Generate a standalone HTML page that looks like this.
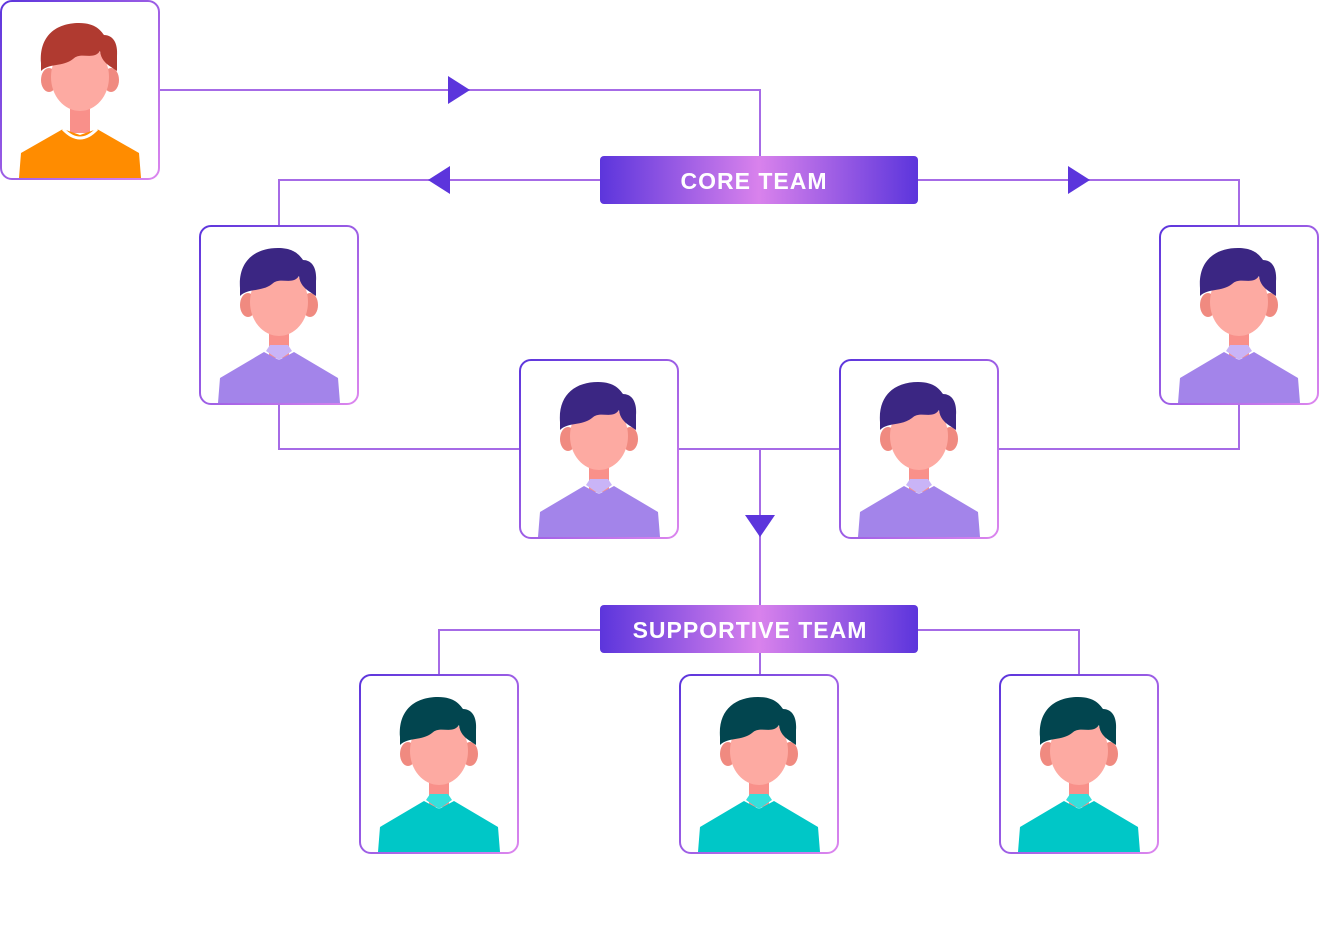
<!DOCTYPE html>
<html><head><meta charset="utf-8"><style>
html,body{margin:0;padding:0;background:#fff;}
svg{display:block}
</style></head><body>
<svg width="1320" height="934" viewBox="0 0 1320 934" xmlns="http://www.w3.org/2000/svg">
<defs>
<linearGradient id="bd" x1="0" y1="0" x2="1" y2="1"><stop offset="0" stop-color="#5c35dc"/><stop offset="1" stop-color="#dc86ee"/></linearGradient>
<linearGradient id="lbl" x1="0" y1="0" x2="1" y2="0"><stop offset="0" stop-color="#5c35dc"/><stop offset="0.5" stop-color="#d982ec"/><stop offset="1" stop-color="#5c35dc"/></linearGradient>
<g id="p">
<ellipse cx="48" cy="79" rx="8" ry="12" fill="#f08a80"/>
<ellipse cx="110" cy="79" rx="8" ry="12" fill="#f08a80"/>
<rect x="69" y="98" width="20" height="34" fill="#f9908a"/>
<ellipse cx="79" cy="76" rx="29" ry="34" fill="#fdaaa2"/>
</g>
<g id="hair">
<path d="M40,62 C38,35 55,22 78,22 C95,22 100,30 103,34 C112,34 117,42 116,55 L116,70 L110,66 C104,62 100,58 99,50 C92,60 80,50 72,58 C62,66 48,62 40,70 Z"/>
</g>
</defs>

<!-- connectors -->
<g fill="none" stroke="#a66be6" stroke-width="2">
<path d="M159,90 H760 V156"/>
<path d="M600,180 H279 V226"/>
<path d="M918,180 H1239 V226"/>
<path d="M279,404 V449 H520"/>
<path d="M678,449 H840"/>
<path d="M998,449 H1239 V404"/>
<path d="M760,449 V605"/>
<path d="M600,630 H439 V675"/>
<path d="M760,653 V675"/>
<path d="M918,630 H1079 V675"/>
</g>
<g fill="#5c35dc">
<polygon points="448,76 470,90 448,104"/>
<polygon points="450,166 428,180 450,194"/>
<polygon points="1068,166 1090,180 1068,194"/>
<polygon points="745,515 775,515 760,537"/>
</g>

<!-- labels -->
<rect x="600" y="156" width="318" height="48" rx="4" fill="url(#lbl)"/>
<text x="754" y="189" text-anchor="middle" font-family="Liberation Sans, sans-serif" font-weight="bold" font-size="23" fill="#fff" letter-spacing="1">CORE TEAM</text>
<rect x="600" y="605" width="318" height="48" rx="4" fill="url(#lbl)"/>
<text x="750" y="638" text-anchor="middle" font-family="Liberation Sans, sans-serif" font-weight="bold" font-size="23" fill="#fff" letter-spacing="1">SUPPORTIVE TEAM</text>

<!-- card1 orange -->
<g transform="translate(1,1)">
<rect x="0" y="0" width="158" height="178" rx="11" fill="#fff" stroke="url(#bd)" stroke-width="2"/>
<use href="#p"/>
<path d="M20,152 L62,128 L79,134 L96,128 L138,152 L140,177 L18,177 Z" fill="#ff8c00"/>
<path d="M62,128 Q79,146 96,128" fill="none" stroke="#fff" stroke-width="3"/>
<g fill="#b03a30"><use href="#hair"/></g>
</g>

<!-- purple cards -->
<g id="pc" transform="translate(200,226)">
<rect x="0" y="0" width="158" height="178" rx="11" fill="#fff" stroke="url(#bd)" stroke-width="2"/>
<use href="#p"/>
<path d="M20,152 L64,126 L79,134 L94,126 L138,152 L140,177 L18,177 Z" fill="#a384ea"/>
<path d="M66,125 L79,134 L92,125 L88,119 L70,119 Z" fill="#c9b4f7"/>
<g fill="#3b2683"><use href="#hair"/></g>
</g>
<g transform="translate(1160,226)">
<rect x="0" y="0" width="158" height="178" rx="11" fill="#fff" stroke="url(#bd)" stroke-width="2"/>
<use href="#p"/>
<path d="M20,152 L64,126 L79,134 L94,126 L138,152 L140,177 L18,177 Z" fill="#a384ea"/>
<path d="M66,125 L79,134 L92,125 L88,119 L70,119 Z" fill="#c9b4f7"/>
<g fill="#3b2683"><use href="#hair"/></g>
</g>
<g transform="translate(520,360)">
<rect x="0" y="0" width="158" height="178" rx="11" fill="#fff" stroke="url(#bd)" stroke-width="2"/>
<use href="#p"/>
<path d="M20,152 L64,126 L79,134 L94,126 L138,152 L140,177 L18,177 Z" fill="#a384ea"/>
<path d="M66,125 L79,134 L92,125 L88,119 L70,119 Z" fill="#c9b4f7"/>
<g fill="#3b2683"><use href="#hair"/></g>
</g>
<g transform="translate(840,360)">
<rect x="0" y="0" width="158" height="178" rx="11" fill="#fff" stroke="url(#bd)" stroke-width="2"/>
<use href="#p"/>
<path d="M20,152 L64,126 L79,134 L94,126 L138,152 L140,177 L18,177 Z" fill="#a384ea"/>
<path d="M66,125 L79,134 L92,125 L88,119 L70,119 Z" fill="#c9b4f7"/>
<g fill="#3b2683"><use href="#hair"/></g>
</g>

<!-- teal cards -->
<g transform="translate(360,675)">
<rect x="0" y="0" width="158" height="178" rx="11" fill="#fff" stroke="url(#bd)" stroke-width="2"/>
<use href="#p"/>
<path d="M20,152 L64,126 L79,134 L94,126 L138,152 L140,177 L18,177 Z" fill="#00c7c7"/>
<path d="M66,125 L79,134 L92,125 L88,119 L70,119 Z" fill="#35e0dc"/>
<g fill="#02454f"><use href="#hair"/></g>
</g>
<g transform="translate(680,675)">
<rect x="0" y="0" width="158" height="178" rx="11" fill="#fff" stroke="url(#bd)" stroke-width="2"/>
<use href="#p"/>
<path d="M20,152 L64,126 L79,134 L94,126 L138,152 L140,177 L18,177 Z" fill="#00c7c7"/>
<path d="M66,125 L79,134 L92,125 L88,119 L70,119 Z" fill="#35e0dc"/>
<g fill="#02454f"><use href="#hair"/></g>
</g>
<g transform="translate(1000,675)">
<rect x="0" y="0" width="158" height="178" rx="11" fill="#fff" stroke="url(#bd)" stroke-width="2"/>
<use href="#p"/>
<path d="M20,152 L64,126 L79,134 L94,126 L138,152 L140,177 L18,177 Z" fill="#00c7c7"/>
<path d="M66,125 L79,134 L92,125 L88,119 L70,119 Z" fill="#35e0dc"/>
<g fill="#02454f"><use href="#hair"/></g>
</g>
</svg>
</body></html>
